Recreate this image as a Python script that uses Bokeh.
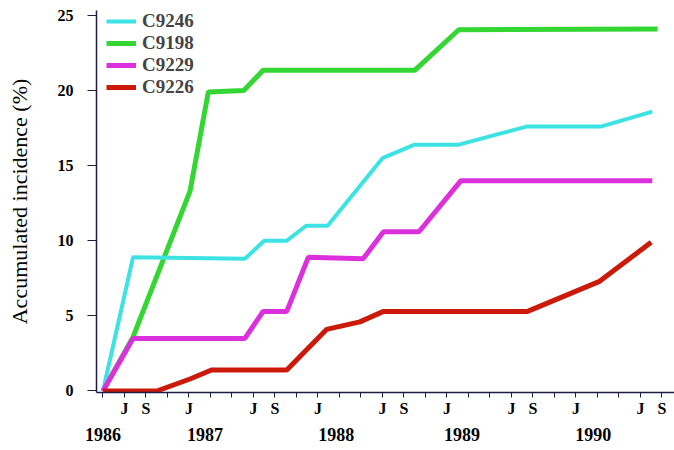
from bokeh.plotting import figure
from bokeh.models import FixedTicker, LinearAxis, Legend, LegendItem, Range1d
from bokeh.embed import file_html
from bokeh.resources import INLINE

# months counted from January 1986 (0 = Jan 1986)
series_names = ["C9246", "C9198", "C9229", "C9226"]

c9246_month = [4, 6.8, 17.2, 19.0, 21.1, 22.9, 24.9, 30.0, 33.0, 37.1, 43.4, 50.3, 55.1]
c9246_value = [0, 8.9, 8.8, 10.0, 10.0, 11.0, 11.0, 15.5, 16.4, 16.4, 17.6, 17.6, 18.6]

c9198_month = [4, 6.8, 12.1, 13.8, 17.1, 18.9, 33.0, 37.1, 55.6]
c9198_value = [0, 3.6, 13.3, 19.9, 20.0, 21.35, 21.35, 24.05, 24.1]

c9229_month = [4, 6.8, 17.2, 18.9, 21.1, 23.1, 28.2, 30.1, 33.4, 37.3, 55.1]
c9229_value = [0, 3.5, 3.5, 5.3, 5.3, 8.9, 8.8, 10.6, 10.6, 14.0, 14.0]

c9226_month = [4, 9.0, 12.1, 14.1, 21.1, 24.8, 27.9, 30.1, 43.5, 50.2, 55.0]
c9226_value = [0, 0, 0.8, 1.4, 1.4, 4.1, 4.6, 5.3, 5.3, 7.3, 9.9]

month_ticks = list(range(4, 57, 2))
month_labels = {6: "J", 8: "S", 12: "J", 18: "J", 20: "S", 24: "J", 30: "J", 32: "S",
                36: "J", 42: "J", 44: "S", 48: "J", 54: "J", 56: "S"}
year_ticks = [4.0, 13.5, 25.7, 37.4, 49.6]
year_labels = ["1986", "1987", "1988", "1989", "1990"]
y_ticks = [0, 5, 10, 15, 20, 25]

AX = "#1c1c44"
SERIF = "Liberation Serif"

p = figure(width=674, height=450, x_range=Range1d(3.4, 57.17), y_range=Range1d(-0.1, 25.33),
           output_backend="svg", toolbar_location=None, x_axis_location=None,
           min_border_left=96, min_border_right=0, min_border_top=10, min_border_bottom=58)
p.outline_line_color = None
p.xgrid.visible = False
p.ygrid.visible = False

r_green = p.line(c9198_month, c9198_value, line_color="#33d633", line_width=5)
r_cyan = p.line(c9246_month, c9246_value, line_color="#3de3e3", line_width=4)
r_mag = p.line(c9229_month, c9229_value, line_color="#dd30dd", line_width=5)
r_red = p.line(c9226_month, c9226_value, line_color="#cc1a0a", line_width=5)

# y axis
ya = p.yaxis[0]
ya.ticker = FixedTicker(ticks=y_ticks)
ya.minor_tick_line_color = None
ya.axis_line_color = AX
ya.axis_line_width = 1.5
ya.major_tick_line_color = AX
ya.major_tick_out = 9
ya.major_tick_in = 0
ya.major_label_standoff = 14
ya.major_label_text_font = SERIF
ya.major_label_text_font_style = "bold"
ya.major_label_text_font_size = "16px"
ya.major_label_text_color = "black"
ya.axis_label = "Accumulated incidence (%)"
ya.axis_label_text_font = SERIF
ya.axis_label_text_font_style = "normal"
ya.axis_label_text_font_size = "22px"
ya.axis_label_text_color = "black"
ya.axis_label_standoff = 23

# month axis
xa = LinearAxis(ticker=FixedTicker(ticks=month_ticks))
xa.major_label_overrides = {t: month_labels.get(t, "") for t in month_ticks}
xa.minor_tick_line_color = None
xa.axis_line_color = AX
xa.axis_line_width = 1.5
xa.major_tick_line_color = AX
xa.major_tick_out = 5
xa.major_tick_in = 0
xa.major_label_standoff = 2
xa.major_label_text_font = SERIF
xa.major_label_text_font_style = "bold"
xa.major_label_text_font_size = "16px"
xa.major_label_text_color = "black"
p.add_layout(xa, "below")

# year axis
ya2 = LinearAxis(ticker=FixedTicker(ticks=year_ticks))
ya2.major_label_overrides = {t: l for t, l in zip(year_ticks, year_labels)}
ya2.axis_line_color = None
ya2.major_tick_line_color = None
ya2.minor_tick_line_color = None
ya2.major_tick_out = 0
ya2.major_tick_in = 0
ya2.major_label_standoff = 8
ya2.major_label_text_font = SERIF
ya2.major_label_text_font_style = "bold"
ya2.major_label_text_font_size = "18px"
ya2.major_label_text_color = "black"
p.add_layout(ya2, "below")

legend = Legend(items=[LegendItem(label=n, renderers=[r]) for n, r in
                       zip(series_names, [r_cyan, r_green, r_mag, r_red])],
                location=(10, 294))
legend.border_line_color = None
legend.background_fill_alpha = 0
legend.label_text_font = SERIF
legend.label_text_font_style = "bold"
legend.label_text_font_size = "19px"
legend.label_text_line_height = 1.0
legend.glyph_width = 30
legend.glyph_height = 20
legend.label_height = 20
legend.spacing = -3
legend.padding = 0
legend.margin = 0
legend.label_standoff = 6
p.add_layout(legend)

open("out.html", "w").write(file_html(p, INLINE))
